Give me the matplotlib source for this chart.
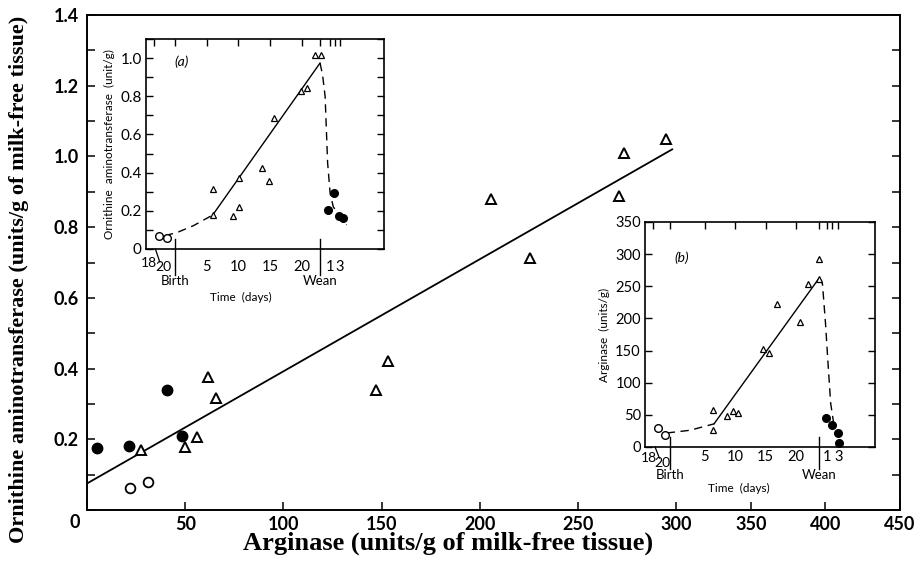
import numpy as np
import matplotlib
matplotlib.use("Agg")
import matplotlib.pyplot as plt
from matplotlib.ticker import MultipleLocator

# ---- main plot: arginase vs ornithine aminotransferase ----
tri_arg = [27.5, 50.1, 56.2, 61.8, 65.7, 147.2, 153.5, 205.8, 225.7, 270.7, 273.7, 294.8]
tri_oat = [0.170, 0.177, 0.207, 0.377, 0.316, 0.339, 0.422, 0.879, 0.714, 0.889, 1.011, 1.048]
open_arg = [21.9, 30.9]
open_oat = [0.063, 0.078]
fill_arg = [4.9, 21.5, 40.9, 48.2]
fill_oat = [0.174, 0.181, 0.339, 0.209]
fit_arg = [0, 298]
fit_oat = [0.075, 1.02]

# ---- inset (a): ornithine aminotransferase vs time ----
# time axis: lactation days, pregnancy days negative (birth = 0), post-wean days after wean
a_open_t = [-2.5, -1.3]
a_open_v = [0.068, 0.058]
a_tri_t = [5.95, 5.95, 9.1, 10.05, 10.15, 13.8, 14.9, 15.7, 19.9, 20.8, 22.1, 23.0]
a_tri_v = [0.313, 0.178, 0.175, 0.219, 0.374, 0.423, 0.358, 0.685, 0.829, 0.843, 1.017, 1.017]
a_fill_t = [24.2, 25.15, 25.9, 26.5]
a_fill_v = [0.204, 0.292, 0.173, 0.161]
a_rise_t = [-1.6, 0.3, 2.9, 5.95]
a_rise_v = [0.07, 0.086, 0.122, 0.178]
a_solid_t = [5.95, 22.9]
a_solid_v = [0.178, 0.974]
a_fall_t = [22.9, 23.3, 23.7, 24.1, 24.5, 25.0, 27.1]
a_fall_v = [0.974, 0.912, 0.80, 0.45, 0.29, 0.22, 0.126]

# ---- inset (b): arginase vs time ----
b_open_t = [-2.67, -1.47]
b_open_v = [29.6, 19.3]
b_tri_t = [6.4, 6.4, 8.6, 9.7, 10.4, 14.5, 15.5, 16.8, 20.6, 21.9, 23.7, 23.7]
b_tri_v = [57, 26, 48, 56, 53, 152, 146, 223, 194, 253, 293, 261]
b_fill_t = [24.8, 25.9, 26.9, 27.05]
b_fill_v = [45.7, 33.7, 21.8, 6.8]
b_rise_t = [-1.2, 2.6, 6.55]
b_rise_v = [21.8, 26, 36]
b_solid_t = [6.55, 23.7]
b_solid_v = [36, 262]
b_fall_t = [23.7, 24.3, 24.8, 25.25, 25.65, 26.1]
b_fall_v = [262, 254, 192, 124, 67.5, 39]

W, H = 917, 566
fig = plt.figure(figsize=(W / 100, H / 100), dpi=100)

sans = ['Lato', 'DejaVu Sans']
serif = ['Liberation Serif', 'DejaVu Serif']


def fwd(x):
    x = np.asarray(x, float)
    return np.where(x <= 300, x, 300 + (x - 300) * 0.76)


def inv(x):
    x = np.asarray(x, float)
    return np.where(x <= 300, x, 300 + (x - 300) / 0.76)


ax = fig.add_axes([87 / W, 1 - 510 / H, (900 - 87) / W, (510 - 15) / H])
ax.set_xscale('function', functions=(fwd, inv))
ax.set_xlim(0, 450)
ax.set_ylim(0, 1.4)
ax.plot(fit_arg, fit_oat, color='black', lw=1.3)
ax.plot(tri_arg, tri_oat, ls='none', marker='^', ms=7.5, mfc='white', mec='black', mew=1.4)
ax.plot(open_arg, open_oat, ls='none', marker='o', ms=7, mfc='white', mec='black', mew=1.3)
ax.plot(fill_arg, fill_oat, ls='none', marker='o', ms=7.5, color='black')

ax.set_xticks(np.arange(0, 451, 50))
ax.set_xticklabels([''] + [str(v) for v in range(50, 451, 50)], family=sans, fontsize=13, fontweight='bold')
ax.set_yticks(np.arange(0.2, 1.41, 0.2))
ax.set_yticklabels(['%.1f' % v for v in np.arange(0.2, 1.41, 0.2)], family=sans, fontsize=13, fontweight='bold')
ax.yaxis.set_minor_locator(MultipleLocator(0.1))
ax.tick_params(which='both', direction='in', length=6, width=1.1, right=True)
ax.tick_params(axis='x', pad=4)
ax.tick_params(axis='y', pad=6)
# shared corner zero
ax.annotate('0', xy=(0, 0), xycoords='axes fraction', xytext=(-12, -13), textcoords='offset pixels',
            ha='center', va='center', family=sans, fontsize=13, fontweight='bold')
for s in ax.spines.values():
    s.set_linewidth(1.4)
ax.set_xlabel('Arginase (units/g of milk-free tissue)', family=serif, fontsize=19, fontweight='bold')
ax.xaxis.set_label_coords(0.444, -0.043)
ax.set_ylabel('Ornithine aminotransferase (units/g of milk-free tissue)', family=serif, fontsize=16,
              fontweight='bold')
ax.yaxis.set_label_coords(-0.071, 0.465)


def inset(rect, xlim, ylim, birth, wean, pw, preg_tick, tick_pad, lab_dy, time_dy, d18, d20):
    # rect in pixels: left, top, right, bottom
    l, t, r, b = rect
    axi = fig.add_axes([l / W, 1 - b / H, (r - l) / W, (b - t) / H])
    hpx = b - t
    axi.set_xlim(*xlim)
    axi.set_ylim(*ylim)
    ticks = [preg_tick, birth, 5, 10, 15, 20, wean] + pw
    labels = ['', '', '5', '10', '15', '20', '', '1', '', '3']
    axi.set_xticks(ticks)
    axi.set_xticklabels(labels, family=sans, fontsize=10.5)
    axi.tick_params(axis='x', bottom=False, top=True, direction='in', length=5, width=1, pad=tick_pad)
    axi.tick_params(axis='y', which='both', direction='in', length=5, width=1, right=True, pad=3)
    for s in axi.spines.values():
        s.set_linewidth(1.2)
    tr = axi.get_xaxis_transform()
    # birth and wean markers crossing the bottom axis
    axi.plot([birth, birth], [10 / hpx, -(lab_dy - 6) / hpx], transform=tr, clip_on=False, color='black', lw=1)
    axi.plot([wean, wean], [10 / hpx, -(lab_dy - 6) / hpx], transform=tr, clip_on=False, color='black', lw=1)
    axi.text(birth, -lab_dy / hpx, 'Birth', transform=tr, ha='center', va='center', family=sans, fontsize=9.5)
    axi.text(wean, -lab_dy / hpx, 'Wean', transform=tr, ha='center', va='center', family=sans, fontsize=9.5)
    axi.text(0.5 * (birth + wean) - 1, -time_dy / hpx, 'Time  (days)', transform=tr, ha='center',
             va='center', family=sans, fontsize=8.5)
    # pregnancy days 18 and 20
    axi.text(-4.1, -d18 / hpx, '18', transform=tr, ha='center', va='center', family=sans, fontsize=10)
    axi.text(-1.9, -d20 / hpx, '20', transform=tr, ha='center', va='center', family=sans, fontsize=10)
    axi.plot([-3.1, -2.4], [0, -(d20 - 5) / hpx], transform=tr, clip_on=False, color='black', lw=0.9)
    return axi


# inset (a)
axa = inset((146, 39, 384, 249), (-4.58, 33.0), (0, 1.1), 0, 22.9, [24.5, 25.25, 26.05], -3.3, 8,
            32, 48, 14, 18)
axa.set_yticks(np.arange(0, 1.01, 0.2))
axa.set_yticklabels(['0'] + ['%.1f' % v for v in np.arange(0.2, 1.01, 0.2)], family=sans, fontsize=11)
axa.yaxis.set_minor_locator(MultipleLocator(0.1))
axa.plot(a_rise_t, a_rise_v, color='black', lw=1, ls=(0, (6, 4)))
axa.plot(a_solid_t, a_solid_v, color='black', lw=1)
axa.plot(a_fall_t, a_fall_v, color='black', lw=1, ls=(0, (6, 4)))
axa.plot(a_open_t, a_open_v, ls='none', marker='o', ms=5.5, mfc='white', mec='black', mew=1)
axa.plot(a_tri_t, a_tri_v, ls='none', marker='^', ms=5, mfc='white', mec='black', mew=0.9)
axa.plot(a_fill_t, a_fill_v, ls='none', marker='o', ms=5.5, color='black')
axa.text(0.12, 0.87, '(a)', transform=axa.transAxes, fontsize=10, style='italic', family=sans)
axa.set_ylabel('Ornithine  aminotransferase  (unit/g)', family=sans, fontsize=8.5, labelpad=4)

# inset (b)
axb = inset((645, 222, 875, 447), (-4.75, 32.9), (0, 350), -0.65, 23.7, [25.0, 25.8, 26.9], -3.4, 2,
            28, 41, 11, 16)
axb.set_yticks(np.arange(0, 351, 50))
axb.set_yticklabels([str(v) for v in range(0, 351, 50)], family=sans, fontsize=10.5)
axb.plot(b_rise_t, b_rise_v, color='black', lw=1, ls=(0, (6, 4)))
axb.plot(b_solid_t, b_solid_v, color='black', lw=1)
axb.plot(b_fall_t, b_fall_v, color='black', lw=1, ls=(0, (6, 4)))
axb.plot(b_open_t, b_open_v, ls='none', marker='o', ms=5.5, mfc='white', mec='black', mew=1)
axb.plot(b_tri_t, b_tri_v, ls='none', marker='^', ms=5, mfc='white', mec='black', mew=0.9)
axb.plot(b_fill_t, b_fill_v, ls='none', marker='o', ms=5.5, color='black')
axb.text(0.13, 0.82, '(b)', transform=axb.transAxes, fontsize=10, style='italic', family=sans)
axb.set_ylabel('Arginase  (units/g)', family=sans, fontsize=8.5, labelpad=4)

fig.savefig('out.png', dpi=100)
